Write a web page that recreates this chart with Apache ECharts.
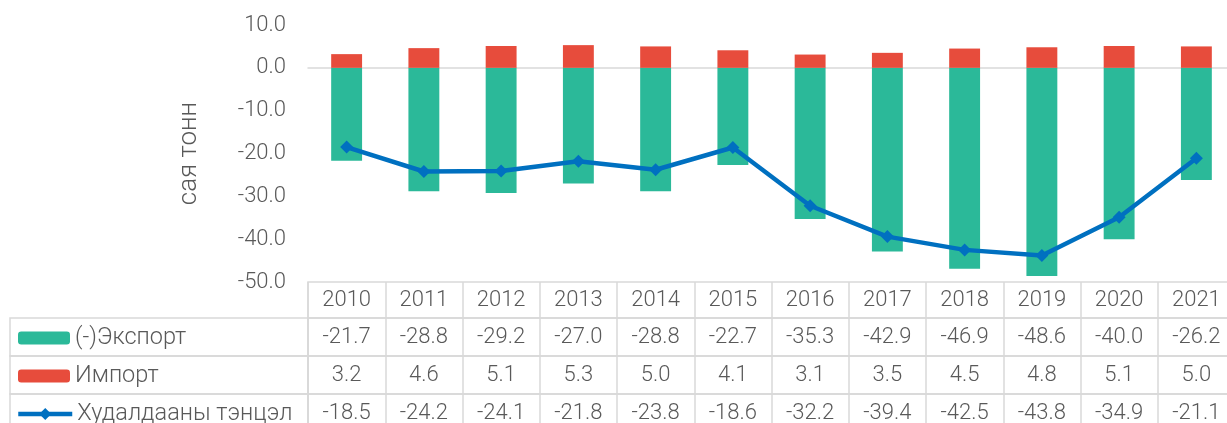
<!DOCTYPE html>
<html>
<head>
<meta charset="utf-8">
<script src="https://cdn.jsdelivr.net/npm/echarts@6/dist/echarts.min.js"></script>
<style>
    html, body { margin: 0; padding: 0; background: #fff; }
    #chart { width: 1227px; height: 423px; }
</style>
</head>
<body>
<div id="chart"></div>
<script>
const years = ['2010', '2011', '2012', '2013', '2014', '2015', '2016', '2017', '2018', '2019', '2020', '2021']
const exportVals = [-21.7, -28.8, -29.2, -27.0, -28.8, -22.7, -35.3, -42.9, -46.9, -48.6, -40.0, -26.2]
const importVals = [3.2, 4.6, 5.1, 5.3, 5.0, 4.1, 3.1, 3.5, 4.5, 4.8, 5.1, 5.0]
const balanceVals = [-18.5, -24.2, -24.1, -21.8, -23.8, -18.6, -32.2, -39.4, -42.5, -43.8, -34.9, -21.1]
const seriesNames = ['(-)Экспорт', 'Импорт', 'Худалдааны тэнцэл']
const rowValues = [exportVals, importVals, balanceVals]

const txt = '#595959'
const border = '#d9d9d9'
const font = 'Roboto'

// table layout
const plotLeft = 308
const plotWidth = 927
const rowTops = [282, 318, 356, 394]
const rowH = [36, 38, 38, 38]

const mychart = echarts.init(document.getElementById('chart'))

const grids = [{ left: plotLeft, width: plotWidth, top: 25, height: 257, outerBoundsMode: 'none' }]
const xAxes = [{
    type: 'category',
    data: years,
    gridIndex: 0,
    axisLine: { show: true, onZero: true, lineStyle: { color: border, width: 1.5 } },
    axisTick: { show: false },
    axisLabel: { show: false }
}]
const yAxes = [{
    type: 'value',
    gridIndex: 0,
    min: -50,
    max: 10,
    interval: 10,
    name: 'сая тонн',
    nameLocation: 'middle',
    nameGap: 106,
    nameTextStyle: { color: txt, fontSize: 26, fontFamily: font, fontWeight: 300 },
    axisLine: { show: false },
    axisTick: { show: false },
    splitLine: { show: false },
    axisLabel: {
        color: txt,
        fontSize: 22,
        fontFamily: font,
        fontWeight: 300,
        margin: 22,
        formatter: function (v) { return v.toFixed(1) }
    }
}]

// value rows of the data table (header row + 3 series rows)
for (let r = 0; r < 4; r++) {
    grids.push({
        left: plotLeft, width: plotWidth, top: rowTops[r], height: rowH[r],
        outerBoundsMode: 'none',
        show: true, borderColor: border, borderWidth: 1.5
    })
    const gi = grids.length - 1
    xAxes.push({
        type: 'category',
        data: years,
        gridIndex: gi,
        axisLine: { show: false },
        axisTick: { show: false },
        splitLine: { show: true, interval: 0, lineStyle: { color: border, width: 1.5 } },
        axisLabel: {
            inside: true,
            interval: 0,
            margin: rowH[r] / 2,
            verticalAlign: 'middle',
            color: txt,
            fontSize: 22,
            fontFamily: font,
            fontWeight: 300,
            formatter: r === 0 ? null : function (v, i) { return rowValues[r - 1][i].toFixed(1) }
        }
    })
    yAxes.push({ type: 'value', gridIndex: gi, show: false })
}

// legend cells on the left of the table
for (let r = 1; r < 4; r++) {
    grids.push({
        left: 10, width: plotLeft - 10, top: rowTops[r], height: rowH[r],
        outerBoundsMode: 'none',
        show: true, borderColor: border, borderWidth: 1.5
    })
    const gi = grids.length - 1
    xAxes.push({ type: 'value', gridIndex: gi, show: false })
    yAxes.push({ type: 'value', gridIndex: gi, show: false })
}

const legends = seriesNames.map(function (name, i) {
    return {
        data: [name],
        left: i === 2 ? 16 : 18,
        top: rowTops[i + 1] + rowH[i + 1] / 2 - 11,
        padding: 0,
        itemWidth: i === 2 ? 54 : 52,
        itemHeight: i === 2 ? 15 : 13,
        itemGap: 5,
        selectedMode: false,
        lineStyle: { width: 4.5 },
        textStyle: { color: txt, fontSize: 23.5, fontFamily: font, fontWeight: 300 }
    }
})

mychart.setOption({
    animation: false,
    textStyle: { fontFamily: font },
    grid: grids,
    xAxis: xAxes,
    yAxis: yAxes,
    legend: legends,
    series: [
        {
            name: seriesNames[0],
            type: 'bar',
            stack: 'total',
            barWidth: '40%',
            data: exportVals,
            itemStyle: { color: '#2bb999' }
        },
        {
            name: seriesNames[1],
            type: 'bar',
            stack: 'total',
            barWidth: '40%',
            data: importVals,
            itemStyle: { color: '#e74c3c' }
        },
        {
            name: seriesNames[2],
            type: 'line',
            data: balanceVals,
            symbol: 'diamond',
            symbolSize: 13,
            lineStyle: { color: '#0070c0', width: 4.5 },
            itemStyle: { color: '#0070c0' },
            z: 5
        }
    ]
})
</script>
</body>
</html>
